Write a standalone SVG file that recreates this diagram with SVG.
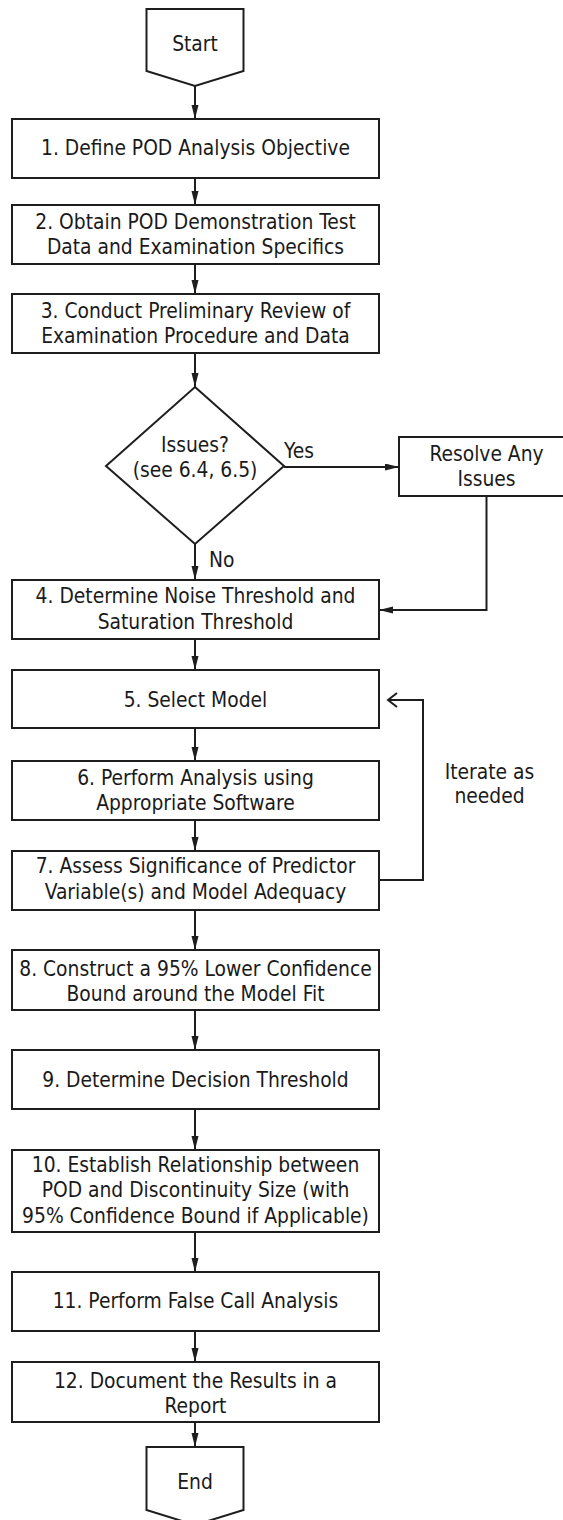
<svg xmlns="http://www.w3.org/2000/svg" width="563" height="1520" viewBox="0 0 563 1520">
<style>
.shape{fill:#fff;stroke:#1e1e1e;stroke-width:2}
.t{font-family:"DejaVu Sans Condensed","DejaVu Sans",sans-serif;font-stretch:condensed;font-size:20.8px;fill:#1a1a1a;text-anchor:middle}
.ts{text-anchor:start}
.c{fill:none;stroke:#1e1e1e;stroke-width:2}
</style>
<defs>
<marker id="ah" markerUnits="userSpaceOnUse" markerWidth="15" markerHeight="8" refX="14" refY="3.5" orient="auto">
<path d="M0,0 L14,3.5 L0,7 z" fill="#1e1e1e"/>
</marker>
</defs>
<rect width="563" height="1520" fill="#fff"/>
<g id="connectors">
<line class="c" x1="195" y1="86" x2="195" y2="119" marker-end="url(#ah)"/>
<line class="c" x1="195" y1="178" x2="195" y2="205" marker-end="url(#ah)"/>
<line class="c" x1="195" y1="264" x2="195" y2="294" marker-end="url(#ah)"/>
<line class="c" x1="195" y1="353" x2="195" y2="387" marker-end="url(#ah)"/>
<line class="c" x1="284" y1="467" x2="399" y2="467" marker-end="url(#ah)"/>
<line class="c" x1="195" y1="544" x2="195" y2="580" marker-end="url(#ah)"/>
<polyline class="c" points="486.5,496 486.5,610 379,610" marker-end="url(#ah)"/>
<line class="c" x1="195" y1="639" x2="195" y2="670" marker-end="url(#ah)"/>
<line class="c" x1="195" y1="728" x2="195" y2="761" marker-end="url(#ah)"/>
<line class="c" x1="195" y1="820" x2="195" y2="851" marker-end="url(#ah)"/>
<polyline class="c" points="379,880 423,880 423,700 388,700"/>
<polyline class="c" points="397,693 388,700 397,707"/>
<line class="c" x1="195" y1="910" x2="195" y2="950" marker-end="url(#ah)"/>
<line class="c" x1="195" y1="1010" x2="195" y2="1050" marker-end="url(#ah)"/>
<line class="c" x1="195" y1="1109" x2="195" y2="1150" marker-end="url(#ah)"/>
<line class="c" x1="195" y1="1232" x2="195" y2="1272" marker-end="url(#ah)"/>
<line class="c" x1="195" y1="1331" x2="195" y2="1362" marker-end="url(#ah)"/>
<line class="c" x1="195" y1="1422" x2="195" y2="1447" marker-end="url(#ah)"/>
<text class="t ts" x="284" y="458">Yes</text>
<text class="t ts" x="209" y="567">No</text>
<text class="t" x="489.5" y="779">Iterate as</text>
<text class="t" x="489.5" y="803">needed</text>
</g>
<g id="start">
<path class="shape" d="M146.5,9 L243.5,9 L243.5,71 L195,86 L146.5,71 Z"/>
<text class="t" x="195" y="51">Start</text>
</g>
<g id="step1">
<rect class="shape" x="12" y="119" width="367" height="59"/>
<text class="t" x="195.5" y="155">1. Define POD Analysis Objective</text>
</g>
<g id="step2">
<rect class="shape" x="12" y="205" width="367" height="59"/>
<text class="t" x="195.5" y="229">2. Obtain POD Demonstration Test</text>
<text class="t" x="195.5" y="254">Data and Examination Specifics</text>
</g>
<g id="step3">
<rect class="shape" x="12" y="294" width="367" height="59"/>
<text class="t" x="195.5" y="318">3. Conduct Preliminary Review of</text>
<text class="t" x="195.5" y="343">Examination Procedure and Data</text>
</g>
<g id="decision">
<path class="shape" d="M195,387 L284,466 L195,544 L106,466 Z"/>
<text class="t" x="195" y="452">Issues?</text>
<text class="t" x="195" y="477">(see 6.4, 6.5)</text>
</g>
<g id="resolve">
<rect class="shape" x="399" y="437" width="175" height="59"/>
<text class="t" x="486.5" y="461">Resolve Any</text>
<text class="t" x="486.5" y="486">Issues</text>
</g>
<g id="step4">
<rect class="shape" x="12" y="580" width="367" height="59"/>
<text class="t" x="195.5" y="603">4. Determine Noise Threshold and</text>
<text class="t" x="195.5" y="629">Saturation Threshold</text>
</g>
<g id="step5">
<rect class="shape" x="12" y="670" width="367" height="58"/>
<text class="t" x="195.5" y="707">5. Select Model</text>
</g>
<g id="step6">
<rect class="shape" x="12" y="761" width="367" height="59"/>
<text class="t" x="195.5" y="785">6. Perform Analysis using</text>
<text class="t" x="195.5" y="810">Appropriate Software</text>
</g>
<g id="step7">
<rect class="shape" x="12" y="851" width="367" height="59"/>
<text class="t" x="195.5" y="873">7. Assess Significance of Predictor</text>
<text class="t" x="195.5" y="899">Variable(s) and Model Adequacy</text>
</g>
<g id="step8">
<rect class="shape" x="12" y="950" width="367" height="60"/>
<text class="t" x="195.5" y="976">8. Construct a 95% Lower Confidence</text>
<text class="t" x="195.5" y="1001">Bound around the Model Fit</text>
</g>
<g id="step9">
<rect class="shape" x="12" y="1050" width="367" height="59"/>
<text class="t" x="195.5" y="1087">9. Determine Decision Threshold</text>
</g>
<g id="step10">
<rect class="shape" x="12" y="1150" width="367" height="82"/>
<text class="t" x="195.5" y="1172">10. Establish Relationship between</text>
<text class="t" x="195.5" y="1197">POD and Discontinuity Size (with</text>
<text class="t" x="195.5" y="1223">95% Confidence Bound if Applicable)</text>
</g>
<g id="step11">
<rect class="shape" x="12" y="1272" width="367" height="59"/>
<text class="t" x="195.5" y="1308">11. Perform False Call Analysis</text>
</g>
<g id="step12">
<rect class="shape" x="12" y="1362" width="367" height="60"/>
<text class="t" x="195.5" y="1388">12. Document the Results in a</text>
<text class="t" x="195.5" y="1413">Report</text>
</g>
<g id="end">
<path class="shape" d="M146.5,1447 L243.5,1447 L243.5,1510 L195,1525 L146.5,1510 Z"/>
<text class="t" x="195" y="1489">End</text>
</g>
</svg>
